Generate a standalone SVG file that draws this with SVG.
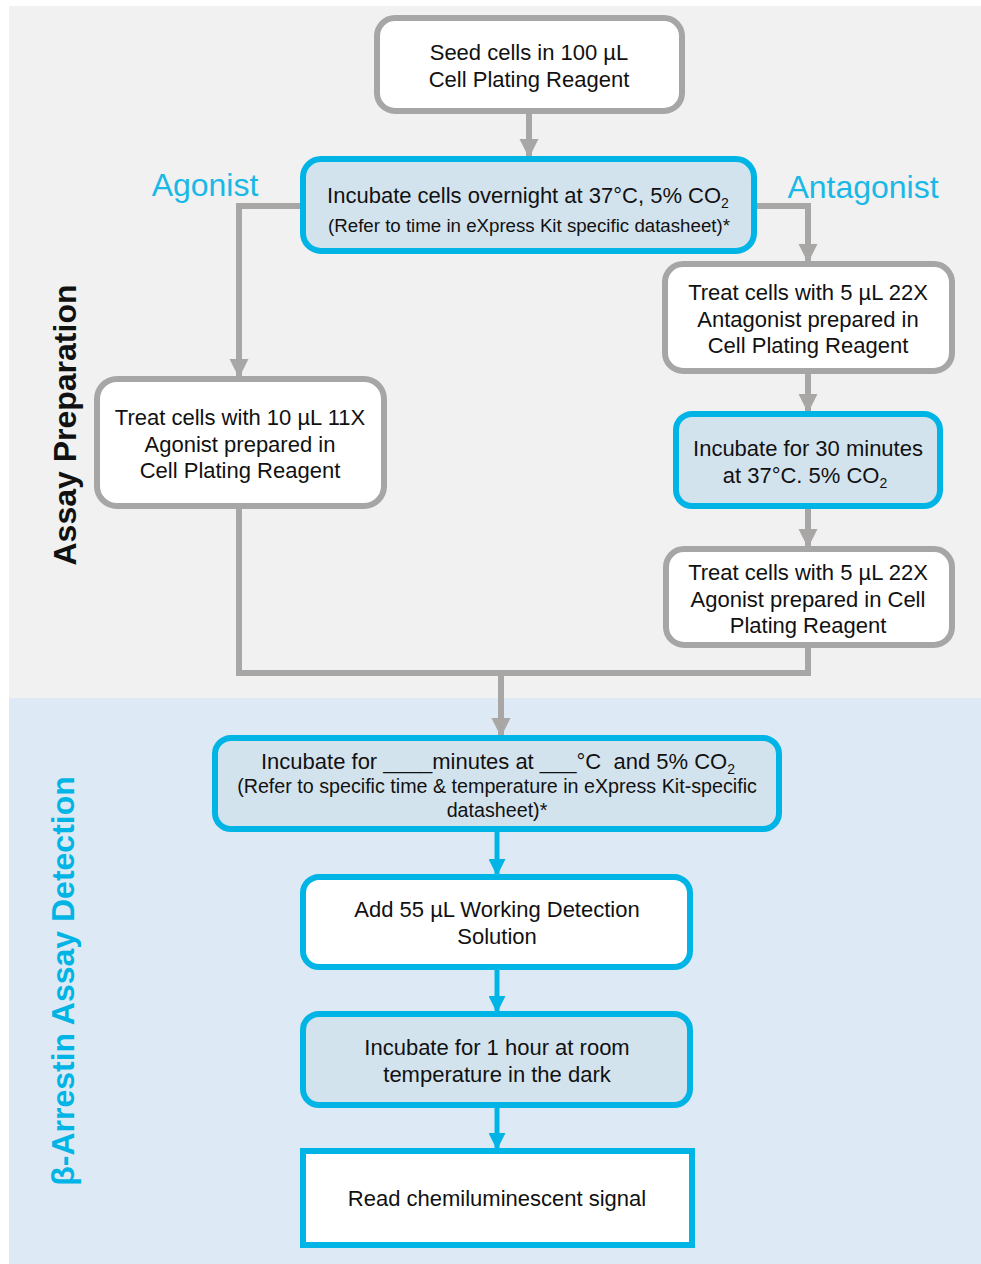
<svg xmlns="http://www.w3.org/2000/svg" width="981" height="1264" viewBox="0 0 981 1264">
<style>
text{font-family:"Liberation Sans",Arial,sans-serif;fill:#111}
.t{font-size:22px;text-anchor:middle}
.s{font-size:18.7px;text-anchor:middle}
.gbox{fill:#fff;stroke:#a6a6a6;stroke-width:6}
.bbox{fill:#d3e3ee;stroke:#00b5e5;stroke-width:6}
.wbox{fill:#fff;stroke:#00b5e5;stroke-width:6}
.gl{fill:none;stroke:#a9a6a6;stroke-width:6}
.bl{fill:none;stroke:#00b5e5;stroke-width:5}
.lbl{font-size:32px;fill:#1ab8e6;text-anchor:middle}
.side{font-size:32px;font-weight:bold;text-anchor:middle}
</style>
<defs>
<marker id="ga" viewBox="0 0 10 10" refX="10" refY="5" markerWidth="3.2" markerHeight="3.2" markerUnits="strokeWidth" orient="auto"><path d="M0,0 L10,5 L0,10 z" fill="#a9a6a6"/></marker>
<marker id="ba" viewBox="0 0 10 10" refX="10" refY="5" markerWidth="3.4" markerHeight="3.4" markerUnits="strokeWidth" orient="auto"><path d="M0,0 L10,5 L0,10 z" fill="#00b5e5"/></marker>
</defs>
<rect x="0" y="0" width="981" height="1264" fill="#fff"/>
<rect x="9" y="6" width="972" height="692" fill="#f1f1f1"/>
<rect x="9" y="698" width="972" height="566" fill="#dde9f4"/>

<text class="side" transform="translate(76,425) rotate(-90)">Assay Preparation</text>
<text class="side" transform="translate(74,981) rotate(-90)" style="fill:#00b5e5">β-Arrestin Assay Detection</text>
<text class="lbl" x="205" y="196">Agonist</text>
<text class="lbl" x="863" y="198">Antagonist</text>

<g id="connectors">
<line class="gl" x1="529" y1="111" x2="529" y2="158" marker-end="url(#ga)"/>
<polyline class="gl" points="302,206 239,206 239,378" marker-end="url(#ga)"/>
<polyline class="gl" points="755,206 808,206 808,263" marker-end="url(#ga)"/>
<line class="gl" x1="808" y1="372" x2="808" y2="413" marker-end="url(#ga)"/>
<line class="gl" x1="808" y1="507" x2="808" y2="548" marker-end="url(#ga)"/>
<polyline class="gl" points="239,507 239,673 808,673 808,646"/>
<line class="gl" x1="501" y1="673" x2="501" y2="737" marker-end="url(#ga)"/>
<line class="bl" x1="497" y1="830" x2="497" y2="876" marker-end="url(#ba)"/>
<line class="bl" x1="497" y1="968" x2="497" y2="1013" marker-end="url(#ba)"/>
<line class="bl" x1="497" y1="1106" x2="497" y2="1150" marker-end="url(#ba)"/>
</g>

<g id="seed">
<rect class="gbox" x="377" y="18" width="305" height="93" rx="18"/>
<text class="t" x="529" y="60">Seed cells in 100 µL</text>
<text class="t" x="529" y="87">Cell Plating Reagent</text>
</g>

<g id="incubate-overnight">
<rect class="bbox" x="303" y="159" width="451" height="92" rx="18"/>
<text class="t" x="528" y="203">Incubate cells overnight at 37°C, 5% CO<tspan font-size="14" dy="5">2</tspan></text>
<text class="s" x="529" y="232">(Refer to time in eXpress Kit specific datasheet)*</text>
</g>

<g id="treat-agonist-10">
<rect class="gbox" x="97" y="379" width="287" height="127" rx="20"/>
<text class="t" x="240" y="425">Treat cells with 10 µL 11X</text>
<text class="t" x="240" y="452">Agonist prepared in</text>
<text class="t" x="240" y="478">Cell Plating Reagent</text>
</g>

<g id="treat-antagonist">
<rect class="gbox" x="665" y="264" width="287" height="107" rx="18"/>
<text class="t" x="808" y="300">Treat cells with 5 µL 22X</text>
<text class="t" x="808" y="327">Antagonist prepared in</text>
<text class="t" x="808" y="353">Cell Plating Reagent</text>
</g>

<g id="incubate-30">
<rect class="bbox" x="676" y="414" width="264" height="92" rx="16"/>
<text class="t" x="808" y="456">Incubate for 30 minutes</text>
<text class="t" x="805" y="483">at 37°C. 5% CO<tspan font-size="14" dy="5">2</tspan></text>
</g>

<g id="treat-agonist-5">
<rect class="gbox" x="666" y="549" width="286" height="96" rx="18"/>
<text class="t" x="808" y="580">Treat cells with 5 µL 22X</text>
<text class="t" x="808" y="607">Agonist prepared in Cell</text>
<text class="t" x="808" y="633">Plating Reagent</text>
</g>

<g id="incubate-minutes">
<rect class="bbox" x="215" y="738" width="564" height="91" rx="16"/>
<text class="t" x="498" y="769" xml:space="preserve">Incubate for ____minutes at ___°C  and 5% CO<tspan font-size="14" dy="5">2</tspan></text>
<text class="t" x="497" y="793" style="font-size:19.7px">(Refer to specific time &amp; temperature in eXpress Kit-specific</text>
<text class="t" x="497" y="817" style="font-size:19.7px">datasheet)*</text>
</g>

<g id="add-detection">
<rect class="wbox" x="303" y="877" width="387" height="90" rx="16"/>
<text class="t" x="497" y="917">Add 55 µL Working Detection</text>
<text class="t" x="497" y="944">Solution</text>
</g>

<g id="incubate-1h">
<rect class="bbox" x="303" y="1014" width="387" height="91" rx="16"/>
<text class="t" x="497" y="1055">Incubate for 1 hour at room</text>
<text class="t" x="497" y="1082">temperature in the dark</text>
</g>

<g id="read">
<rect class="wbox" x="303" y="1151" width="389" height="94"/>
<text class="t" x="497" y="1206">Read chemiluminescent signal</text>
</g>
</svg>
